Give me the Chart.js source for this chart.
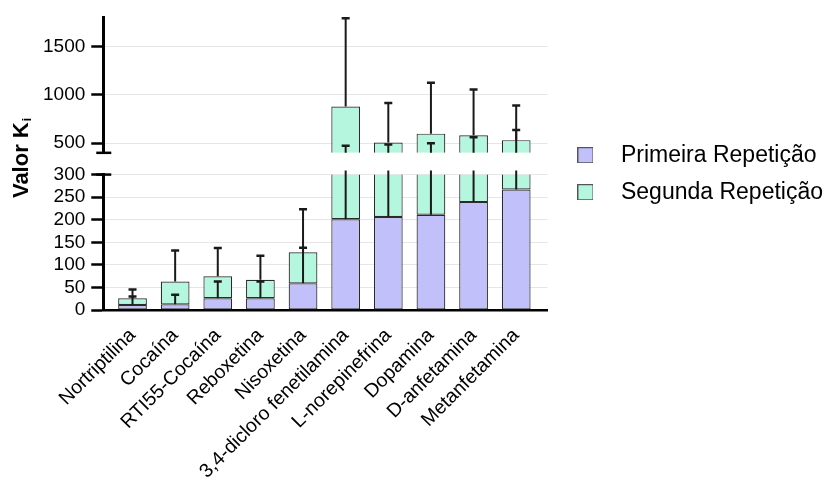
<!DOCTYPE html>
<html>
<head>
<meta charset="utf-8">
<script src="https://cdn.jsdelivr.net/npm/chart.js@4.4.1/dist/chart.umd.min.js"></script>
<style>
  html, body { margin: 0; padding: 0; background: #fff; }
  #wrap { position: relative; width: 833px; height: 488px; }
</style>
</head>
<body>
<div id="wrap"><canvas id="chart" width="833" height="488"></canvas></div>
<script>
// Compounds on the x axis
const categories = ['Nortriptilina', 'Cocaína', 'RTI55-Cocaína', 'Reboxetina', 'Nisoxetina',
  '3,4-dicloro fenetilamina', 'L-norepinefrina', 'Dopamina', 'D-anfetamina', 'Metanfetamina'];

// Ki values (stacked) and upward error of each repetition
const primeira      = [11, 12.5, 26, 26, 59, 201, 206, 211, 239, 267];
const primeiraErro  = [19, 21.5, 37, 37, 79, 272, 281, 289, 322, 369];
const segunda       = [15, 50.5, 48.5, 41, 69, 677, 301, 387, 343, 264];
const segundaErro   = [19.5, 69, 63, 53, 95, 912, 407, 527, 472, 357];

const seriesNames = ['Primeira Repetição', 'Segunda Repetição'];

// Broken value axis: lower and upper segments
const lowRange  = [0, 300];
const highRange = [400, 1800];
const lowTicks  = [0, 50, 100, 150, 200, 250, 300];
const highTicks = [500, 1000, 1500];

const axisTitle = 'Valor K';
const axisTitleSub = 'i';

const FONT = "'Liberation Sans', Arial, Helvetica, sans-serif";
const COLORS = ['#c2c0fb', '#b5f6de'];
const EDGE = '#2b2b2b';

Chart.defaults.font.family = FONT;
Chart.defaults.color = '#000';

const points = arr => arr.map((v, i) => ({ x: i, y: v }));
const tops = [primeira, primeira.map((v, i) => v + segunda[i])];
const errs = [primeiraErro, segundaErro];

// legend swatches
const swatches = COLORS.map(c => {
  const cv = document.createElement('canvas');
  cv.width = 16; cv.height = 16;
  const g = cv.getContext('2d');
  g.fillStyle = c; g.fillRect(0.5, 0.5, 15, 15);
  g.strokeStyle = '#555'; g.lineWidth = 1; g.strokeRect(0.5, 0.5, 15, 15);
  return cv;
});

function barSet(k, axis) {
  return {
    label: seriesNames[k],
    data: points(k === 0 ? primeira : segunda),
    yAxisID: axis,
    backgroundColor: COLORS[k],
    borderColor: EDGE,
    borderWidth: 1.2,
    borderSkipped: false,
    categoryPercentage: 1,
    barPercentage: 0.674,
    series: k
  };
}

// clip every dataset to its own axis segment
const segmentClip = {
  id: 'segmentClip',
  beforeDatasetDraw(chart, args) {
    const ys = args.meta.yScale, a = chart.chartArea, ctx = chart.ctx;
    ctx.save();
    ctx.beginPath();
    ctx.rect(a.left, ys.top, a.right - a.left, ys.bottom - ys.top);
    ctx.clip();
  },
  afterDatasetDraw(chart) { chart.ctx.restore(); }
};

// upward error bars, one per repetition
const errorBars = {
  id: 'errorBars',
  afterDatasetsDraw(chart) {
    const ctx = chart.ctx, a = chart.chartArea;
    chart.data.datasets.forEach((ds, di) => {
      const meta = chart.getDatasetMeta(di);
      const ys = meta.yScale;
      ctx.save();
      ctx.beginPath();
      ctx.rect(a.left, ys.top - 4, a.right - a.left, ys.bottom - ys.top + 4);
      ctx.clip();
      ctx.strokeStyle = '#1a1a1a';
      meta.data.forEach((bar, i) => {
        const k = ds.series;
        const y0 = ys.getPixelForValue(tops[k][i]);
        const y1 = ys.getPixelForValue(tops[k][i] + errs[k][i]);
        ctx.lineWidth = 2;
        ctx.beginPath(); ctx.moveTo(bar.x, y0); ctx.lineTo(bar.x, y1); ctx.stroke();
        ctx.lineWidth = 2.5;
        ctx.beginPath(); ctx.moveTo(bar.x - 4, y1); ctx.lineTo(bar.x + 4, y1); ctx.stroke();
      });
      ctx.restore();
    });
  }
};

// break marks on the value axis and the rotated axis title
const axisDecor = {
  id: 'axisDecor',
  afterDraw(chart) {
    const ctx = chart.ctx;
    const lo = chart.scales.yLow, hi = chart.scales.yHigh;
    const x = lo.right;
    ctx.save();
    ctx.strokeStyle = '#000';
    ctx.lineWidth = 2.5;
    [hi.bottom, lo.top].forEach(y => {
      ctx.beginPath(); ctx.moveTo(x - 7, y); ctx.lineTo(x + 8, y); ctx.stroke();
    });
    // title
    ctx.translate(22, 158);
    ctx.rotate(-Math.PI / 2);
    ctx.fillStyle = '#000';
    ctx.textBaseline = 'middle';
    ctx.font = 'bold 22px ' + FONT;
    const w1 = ctx.measureText(axisTitle).width;
    ctx.font = 'bold 12px ' + FONT;
    const w2 = ctx.measureText(axisTitleSub).width;
    const start = -(w1 + w2 + 1) / 2;
    ctx.font = 'bold 22px ' + FONT;
    ctx.textAlign = 'left';
    ctx.fillText(axisTitle, start, 0);
    ctx.font = 'bold 12px ' + FONT;
    ctx.fillText(axisTitleSub, start + w1 + 1, 6);
    ctx.restore();
  }
};

const yCommon = (range, ticks) => ({
  type: 'linear',
  position: 'left',
  stack: 'value',
  stacked: true,
  min: range[0],
  max: range[1],
  afterBuildTicks: s => { s.ticks = ticks.map(v => ({ value: v })); },
  grid: {
    color: '#e6e6e6',
    lineWidth: 1,
    tickColor: '#000',
    tickWidth: 2.5,
    tickLength: 12,
    drawTicks: true
  },
  border: { display: true, color: '#000', width: 3 },
  ticks: { padding: 6, autoSkip: false, font: { size: 19 }, color: '#000', callback: v => String(v) }
});

const chart = new Chart(document.getElementById('chart'), {
  type: 'bar',
  data: {
    datasets: [
      barSet(0, 'yLow'), barSet(1, 'yLow'),
      barSet(0, 'yHigh'), barSet(1, 'yHigh')
    ]
  },
  options: {
    responsive: false,
    animation: false,
    layout: { padding: { left: 37, right: 0, top: 14, bottom: 4 } },
    scales: {
      x: {
        type: 'linear',
        stacked: true,
        offset: false,
        min: -0.686,
        max: 9.733,
        afterFit: s => { s.height = 174; s.paddingLeft = 0; s.paddingRight = 0; },
        grid: { display: false, offset: false },
        border: { display: true, color: '#000', width: 2.5 },
        ticks: {
          stepSize: 1,
          includeBounds: false,
          autoSkip: false,
          minRotation: 45,
          maxRotation: 45,
          padding: 6,
          font: { size: 19.5 },
          color: '#000',
          callback: v => (Number.isInteger(v) && categories[v] !== undefined) ? categories[v] : ''
        }
      },
      yLow: Object.assign(yCommon(lowRange, lowTicks), { stackWeight: 137, weight: 1 }),
      yGap: { type: 'linear', position: 'left', stack: 'value', stackWeight: 22, weight: 2, display: false },
      yHigh: Object.assign(yCommon(highRange, highTicks), { stackWeight: 137, weight: 3 })
    },
    plugins: {
      tooltip: { enabled: false },
      legend: {
        position: 'right',
        fullSize: false,
        align: 'center',
        maxWidth: 400,
        title: { display: true, text: '', padding: 0, font: { size: 10, lineHeight: 2 } },
        labels: {
          usePointStyle: true,
          pointStyleWidth: 48,
          padding: 14,
          color: '#000',
          font: { size: 23 },
          generateLabels(ch) {
            const items = Chart.defaults.plugins.legend.labels.generateLabels(ch);
            return items.filter(it => it.datasetIndex < 2)
              .map(it => Object.assign(it, { pointStyle: swatches[it.datasetIndex] }));
          }
        }
      }
    }
  },
  plugins: [segmentClip, errorBars, axisDecor]
});
</script>
</body>
</html>
